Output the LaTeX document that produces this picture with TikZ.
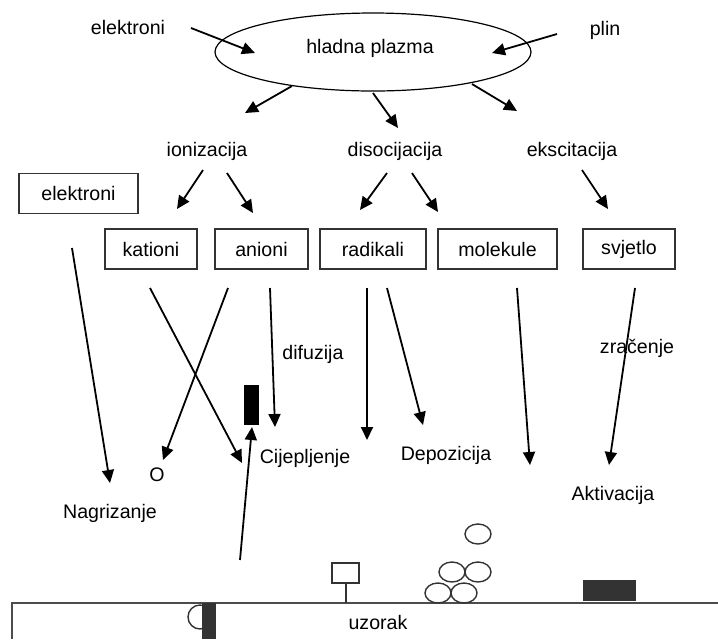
\documentclass[tikz,border=0pt]{standalone}
\usepackage{fontspec}
\setmainfont{Liberation Sans}
\usepackage{tikz}
\usetikzlibrary{arrows,arrows.meta,shapes,positioning}
\definecolor{tamna}{RGB}{51,51,51}
\begin{document}
\begin{tikzpicture}[x=0.5pt,y=-0.5pt]
                    \tikzstyle{every node}+=[inner sep=0pt,font=\fontsize{9.8}{11}\selectfont]
                    \tikzstyle{okvir}=[draw=black!80,line width=0.9pt,minimum height=20pt]
                    \tikzstyle{strelica}=[-{Triangle[length=6.5pt,width=6pt]},line width=0.9pt]
                    \useasboundingbox (0,0) rectangle (718,639);
                    \node [ellipse,draw,line width=0.6pt,minimum width=158pt,minimum height=39pt] (plazma) at (373,52) {};
                    \node (plazmatxt) at (370,48) {hladna plazma};
                    \node (elektroni) at (128,27) {elektroni};
                    \node (plin) at (605,30) {plin};
                    \node (ionizacija) at (207,151) {ionizacija};
                    \node (disocijacija) at (395,151) {disocijacija};
                    \node (ekscitacija) at (572,151) {ekscitacija};
                    \node [okvir,minimum width=59.5pt] (elbox) at (78.5,193.5) {elektroni};
                    \node [okvir,minimum width=46pt] (kationi) at (151,249) {kationi};
                    \node [okvir,minimum width=46.5pt] (anioni) at (261.5,249) {anioni};
                    \node [okvir,minimum width=53pt] (radikali) at (373,249) {radikali};
                    \node [okvir,minimum width=59.5pt] (molekule) at (497.5,249) {molekule};
                    \node [okvir,minimum width=46pt] (svjetlo) at (629,249) {svjetlo};
                    \node (difuzija) at (313,354) {difuzija};
                    \node (zracenje) at (637,348) {zra\v{c}enje};
                    \node (cijepljenje) at (305,458) {Cijepljenje};
                    \node (depozicija) at (446,455) {Depozicija};
                    \node (aktivacija) at (613,495) {Aktivacija};
                    \node (nagrizanje) at (110,513) {Nagrizanje};
                    \node (kisik) at (157,475) {O};
                    \node (uzorak) at (378,622) {uzorak};
                    \coordinate (a1) at (191,28);   \coordinate (b1) at (255,53);
                    \coordinate (a2) at (557,34);   \coordinate (b2) at (492,53);
                    \coordinate (a3) at (292,86);   \coordinate (b3) at (245,113);
                    \coordinate (a4) at (373,93);   \coordinate (b4) at (398,128);
                    \coordinate (a5) at (472,84);   \coordinate (b5) at (517,111);
                    \coordinate (a6) at (203,170);  \coordinate (b6) at (177,209);
                    \coordinate (a7) at (227,173);  \coordinate (b7) at (253,213);
                    \coordinate (a8) at (387,173);  \coordinate (b8) at (360,210);
                    \coordinate (a9) at (412,173);  \coordinate (b9) at (438,212);
                    \coordinate (a10) at (582,170); \coordinate (b10) at (608,209);
                    \coordinate (c1) at (72,248);   \coordinate (d1) at (110,483);
                    \coordinate (c2) at (150,288);  \coordinate (d2) at (242,463);
                    \coordinate (c3) at (228,288);  \coordinate (d3) at (163,460);
                    \coordinate (c4) at (270,288);  \coordinate (d4) at (275,427);
                    \coordinate (c5) at (240,560);  \coordinate (d5) at (252,427);
                    \coordinate (c6) at (367,288);  \coordinate (d6) at (367,440);
                    \coordinate (c7) at (387,288);  \coordinate (d7) at (423,425);
                    \coordinate (c8) at (517,288);  \coordinate (d8) at (530,465);
                    \coordinate (c9) at (635,288);  \coordinate (d9) at (609,465);
                    \draw [strelica] (a1) -- (b1);
                    \draw [strelica] (a2) -- (b2);
                    \draw [strelica] (a3) -- (b3);
                    \draw [strelica] (a4) -- (b4);
                    \draw [strelica] (a5) -- (b5);
                    \draw [strelica] (a6) -- (b6);
                    \draw [strelica] (a7) -- (b7);
                    \draw [strelica] (a8) -- (b8);
                    \draw [strelica] (a9) -- (b9);
                    \draw [strelica] (a10) -- (b10);
                    \draw [strelica] (c1) -- (d1);
                    \draw [strelica] (c2) -- (d2);
                    \draw [strelica] (c3) -- (d3);
                    \draw [strelica] (c4) -- (d4);
                    \draw [strelica] (c5) -- (d5);
                    \draw [strelica] (c6) -- (d6);
                    \draw [strelica] (c7) -- (d7);
                    \draw [strelica] (c8) -- (d8);
                    \draw [strelica] (c9) -- (d9);
                    \fill [black] (244,385) rectangle (259,425);
                    \draw [black!70,line width=0.9pt] (12,639) -- (12,603) -- (718,603);
                    \draw [black!80,line width=0.7pt] (200,617) circle [radius=6pt];
                    \fill [tamna] (202,603) rectangle (216,639);
                    \draw [black!80,line width=0.7pt] (332,563) rectangle (359,583);
                    \draw [black!80,line width=0.7pt] (346,583) -- (346,603);
                    \draw [black!80,line width=0.7pt] (478,534) ellipse [x radius=6.5pt,y radius=5pt];
                    \draw [black!80,line width=0.7pt] (452,572) ellipse [x radius=6.5pt,y radius=5pt];
                    \draw [black!80,line width=0.7pt] (478,572) ellipse [x radius=6.5pt,y radius=5pt];
                    \draw [black!80,line width=0.7pt] (438,593) ellipse [x radius=6.5pt,y radius=5pt];
                    \draw [black!80,line width=0.7pt] (464,593) ellipse [x radius=6.5pt,y radius=5pt];
                    \fill [tamna] (583,580) rectangle (636,601);
                \end{tikzpicture}
\end{document}
